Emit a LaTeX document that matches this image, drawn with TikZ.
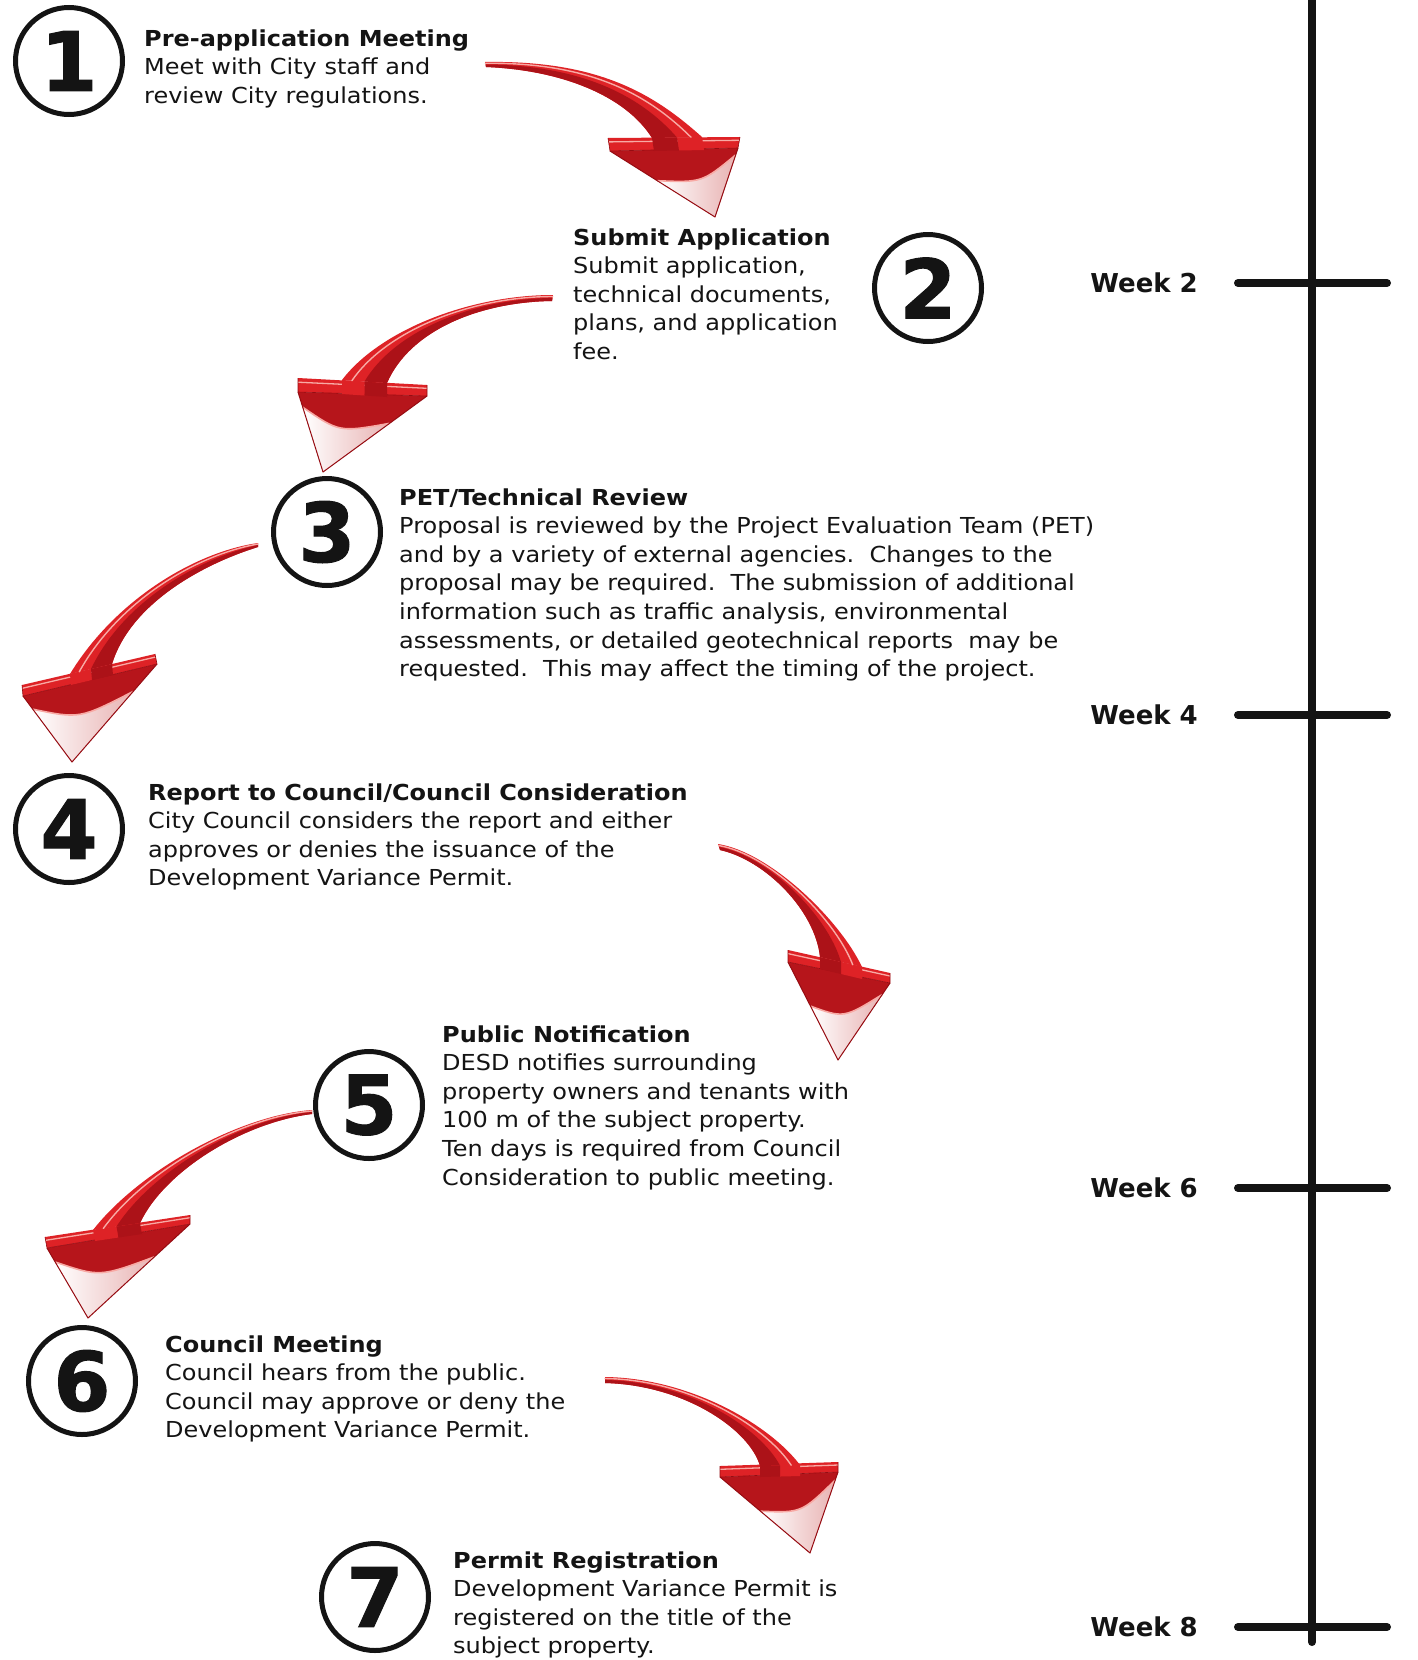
\documentclass[tikz,border=0pt]{standalone}
\usepackage{fontspec}
\setmainfont{DejaVu Sans}[FakeStretch=1.09]
\newfontfamily\stepweekfam{DejaVu Sans}
\newfontfamily\stepdigitfam{DejaVu Sans}[FakeBold=1.2]
\usetikzlibrary{calc}
\definecolor{arrowred}{RGB}{222,34,38}
\definecolor{arrowdark}{RGB}{172,18,24}
\definecolor{arrowedge}{RGB}{150,12,18}
\definecolor{arrowhl}{RGB}{248,170,165}
\definecolor{arrowpink}{RGB}{232,178,178}
\definecolor{inkblack}{RGB}{20,20,20}

\newcommand\stepbodyfont{\fontsize{22}{28.6}\selectfont}
\newcommand\stepdigitfont{\stepdigitfam\fontsize{82}{82}\selectfont\bfseries}
\newcommand\stepweekfont{\stepweekfam\fontsize{26}{30}\selectfont\bfseries}

\newcommand\redarrow[3]{%
  \coordinate (#1aL) at ($(#1bl2)!#2!(#1tip)$);
  \coordinate (#1aR) at ($(#1br2)!#3!(#1tip)$);
  \coordinate (#1aC) at ($($(#1aL)!0.5!(#1aR)$)!0.3!(#1tip)$);
  \coordinate (#1mt) at ($(#1t1)!0.5!(#1t2)$);
  \coordinate (#1ma) at ($(#1oa)!0.5!(#1ia)$);
  \coordinate (#1mb) at ($(#1ob)!0.5!(#1ib)$);
  \coordinate (#1ms) at ($(#1s1)!0.5!(#1s2)$);
  \coordinate (#1ht) at ($(#1t1)!0.25!(#1t2)$);
  \coordinate (#1ha) at ($(#1oa)!0.22!(#1ia)$);
  \coordinate (#1hb) at ($(#1ob)!0.22!(#1ib)$);
  \coordinate (#1hs) at ($(#1s1)!0.22!(#1s2)$);
  \coordinate (#1d1) at ($(#1s1)+(#1bl2)-(#1bl)$);
  \coordinate (#1d2) at ($(#1s2)+(#1bl2)-(#1bl)$);
  \coordinate (#1dm) at ($(#1ms)+(#1bl2)-(#1bl)$);
  % head triangle
  \fill[arrowdark!80!arrowred] (#1bl2) -- (#1br2) -- (#1tip) -- cycle;
  \shade[left color=white, right color=arrowpink] (#1aL) .. controls (#1aC) .. (#1aR) -- (#1tip) -- cycle;
  \draw[arrowhl, line width=1.6pt] (#1aL) .. controls (#1aC) .. (#1aR);
  \draw[arrowedge, line width=1pt, line join=round] (#1bl2) -- (#1tip) -- (#1br2);
  % bar
  \fill[arrowred] (#1bl) -- (#1br) -- (#1br2) -- (#1bl2) -- cycle;
  \draw[arrowhl, line width=1.3pt] ($(#1bl)!0.3!(#1bl2)$) -- ($(#1br)!0.3!(#1br2)$);
  \draw[arrowedge, line width=0.6pt] (#1bl) -- (#1bl2) -- (#1br2) -- (#1br);
  % shaft passing over the bar
  \fill[arrowred] (#1s1) -- (#1ms) -- (#1dm) -- (#1d1) -- cycle;
  \fill[arrowdark] (#1ms) -- (#1s2) -- (#1d2) -- (#1dm) -- cycle;
  % shaft
  \fill[arrowred] (#1t1) .. controls (#1oa) and (#1ob) .. (#1s1) -- (#1s2) .. controls (#1ib) and (#1ia) .. (#1t2) -- cycle;
  \fill[arrowdark] (#1mt) .. controls (#1ma) and (#1mb) .. (#1ms) -- (#1s2) .. controls (#1ib) and (#1ia) .. (#1t2) -- cycle;
  \draw[arrowhl, line width=1.4pt, line cap=round] (#1ht) .. controls (#1ha) and (#1hb) .. (#1hs);
}

\tikzset{
  stepcircle/.style={circle, draw=inkblack, line width=5pt, minimum size=107pt, inner sep=0pt, font=\stepdigitfont, text=inkblack},
  stepblock/.style={anchor=base west, inner sep=0pt, font=\stepbodyfont, text=inkblack},
  weeklabel/.style={anchor=base east, inner sep=0pt, font=\stepweekfont, text=inkblack},
  timeline/.style={draw=inkblack, line width=8pt, line cap=round},
}

\begin{document}
\begin{tikzpicture}[x=1pt,y=-1pt]
\useasboundingbox (0,0) rectangle (1418,1660);
\fill[white] (0,0) rectangle (1418,1660);

% ---------- timeline ----------
\coordinate (tltop) at (1312,-10);
\coordinate (tlbot) at (1312,1642);
\draw[timeline] (tltop) -- (tlbot);
\foreach \n/\y in {2/283,4/715,6/1188,8/1627}{
  \coordinate (tick\n l) at (1238,\y);
  \coordinate (tick\n r) at (1387,\y);
  \draw[timeline] (tick\n l) -- (tick\n r);
  \node[weeklabel] (week\n) at (1198,\y+9) {Week \n};
}

% ---------- arrows ----------
% A : 1 -> 2
\coordinate (At1) at (485,62);  \coordinate (At2) at (486,67);
\coordinate (Aoa) at (600,60);  \coordinate (Aob) at (655,95); \coordinate (As1) at (702,137);
\coordinate (Aia) at (560,70);  \coordinate (Aib) at (625,95); \coordinate (As2) at (652,138);
\coordinate (Abl) at (608,138); \coordinate (Abr) at (740,137);
\coordinate (Abl2) at (610,151); \coordinate (Abr2) at (738,148);
\coordinate (Atip) at (715,217);
\redarrow{A}{0.45}{0.1}

% B : 2 -> 3
\coordinate (Bt1) at (553,295); \coordinate (Bt2) at (552,301);
\coordinate (Boa) at (470,295); \coordinate (Bob) at (380,330); \coordinate (Bs1) at (342,380);
\coordinate (Bia) at (480,302); \coordinate (Bib) at (410,330); \coordinate (Bs2) at (387,383);
\coordinate (Bbl) at (298,378); \coordinate (Bbr) at (427,385);
\coordinate (Bbl2) at (298,392); \coordinate (Bbr2) at (427,396);
\coordinate (Btip) at (323,472);
\redarrow{B}{0.19}{0.36}

% C : 3 -> 4
\coordinate (Ct1) at (258,543); \coordinate (Ct2) at (258,547);
\coordinate (Coa) at (195,552); \coordinate (Cob) at (115,600); \coordinate (Cs1) at (70,674);
\coordinate (Cia) at (200,565); \coordinate (Cib) at (130,605); \coordinate (Cs2) at (112,664);
\coordinate (Cbl) at (22,685);  \coordinate (Cbr) at (155,654);
\coordinate (Cbl2) at (23,696); \coordinate (Cbr2) at (157,664);
\coordinate (Ctip) at (72,762);
\redarrow{C}{0.2}{0.28}

% D : 4 -> 5
\coordinate (Dt1) at (718,844); \coordinate (Dt2) at (720,850);
\coordinate (Doa) at (770,852); \coordinate (Dob) at (840,920); \coordinate (Ds1) at (862,967);
\coordinate (Dia) at (765,860); \coordinate (Dib) at (815,910); \coordinate (Ds2) at (820,957);
\coordinate (Dbl) at (788,950); \coordinate (Dbr) at (890,973);
\coordinate (Dbl2) at (788,962); \coordinate (Dbr2) at (890,983);
\coordinate (Dtip) at (838,1060);
\redarrow{D}{0.45}{0.15}

% E : 5 -> 6
\coordinate (Et1) at (312,1110); \coordinate (Et2) at (312,1114);
\coordinate (Eoa) at (240,1115); \coordinate (Eob) at (140,1170); \coordinate (Es1) at (93,1230);
\coordinate (Eia) at (245,1122); \coordinate (Eib) at (165,1170); \coordinate (Es2) at (140,1223);
\coordinate (Ebl) at (45,1237);  \coordinate (Ebr) at (190,1215);
\coordinate (Ebl2) at (47,1248); \coordinate (Ebr2) at (190,1224);
\coordinate (Etip) at (88,1318);
\redarrow{E}{0.2}{0.35}

% F : 6 -> 7
\coordinate (Ft1) at (605,1377); \coordinate (Ft2) at (605,1383);
\coordinate (Foa) at (690,1378); \coordinate (Fob) at (770,1425); \coordinate (Fs1) at (800,1465);
\coordinate (Fia) at (685,1385); \coordinate (Fib) at (750,1430); \coordinate (Fs2) at (760,1466);
\coordinate (Fbl) at (720,1466); \coordinate (Fbr) at (838,1462);
\coordinate (Fbl2) at (720,1477); \coordinate (Fbr2) at (838,1472);
\coordinate (Ftip) at (810,1553);
\redarrow{F}{0.45}{0.1}

% ---------- step circles ----------
\node[stepcircle] (c1) at (69,61) {1};
\node[stepcircle] (c2) at (928,288) {2};
\node[stepcircle] (c3) at (327,532) {3};
\node[stepcircle] (c4) at (69,829) {4};
\node[stepcircle] (c5) at (369,1105) {5};
\node[stepcircle] (c6) at (82,1381) {6};
\node[stepcircle] (c7) at (375,1597) {7};

% ---------- step texts ----------
\node[stepblock] (t1) at (144,46) {\begin{tabular}[t]{@{}l@{}}\textbf{Pre-application Meeting}\\
Meet with City staff and\\
review City regulations.\end{tabular}};

\node[stepblock] (t2) at (573,245) {\begin{tabular}[t]{@{}l@{}}\textbf{Submit Application}\\
Submit application,\\
technical documents,\\
plans, and application\\
fee.\end{tabular}};

\node[stepblock] (t3) at (399,505) {\begin{tabular}[t]{@{}l@{}}\textbf{PET/Technical Review}\\
Proposal is reviewed by the Project Evaluation Team (PET)\\
and by a variety of external agencies.\ \ Changes to the\\
proposal may be required.\ \ The submission of additional\\
information such as traffic analysis, environmental\\
assessments, or detailed geotechnical reports\ \ may be\\
requested.\ \ This may affect the timing of the project.\end{tabular}};

\node[stepblock] (t4) at (148,800) {\begin{tabular}[t]{@{}l@{}}\textbf{Report to Council/Council Consideration}\\
City Council considers the report and either\\
approves or denies the issuance of the\\
Development Variance Permit.\end{tabular}};

\node[stepblock] (t5) at (442,1042) {\begin{tabular}[t]{@{}l@{}}\textbf{Public Notification}\\
DESD notifies surrounding\\
property owners and tenants with\\
100 m of the subject property.\\
Ten days is required from Council\\
Consideration to public meeting.\end{tabular}};

\node[stepblock] (t6) at (165,1352) {\begin{tabular}[t]{@{}l@{}}\textbf{Council Meeting}\\
Council hears from the public.\\
Council may approve or deny the\\
Development Variance Permit.\end{tabular}};

\node[stepblock] (t7) at (453,1568) {\begin{tabular}[t]{@{}l@{}}\textbf{Permit Registration}\\
Development Variance Permit is\\
registered on the title of the\\
subject property.\end{tabular}};
\end{tikzpicture}
\end{document}
